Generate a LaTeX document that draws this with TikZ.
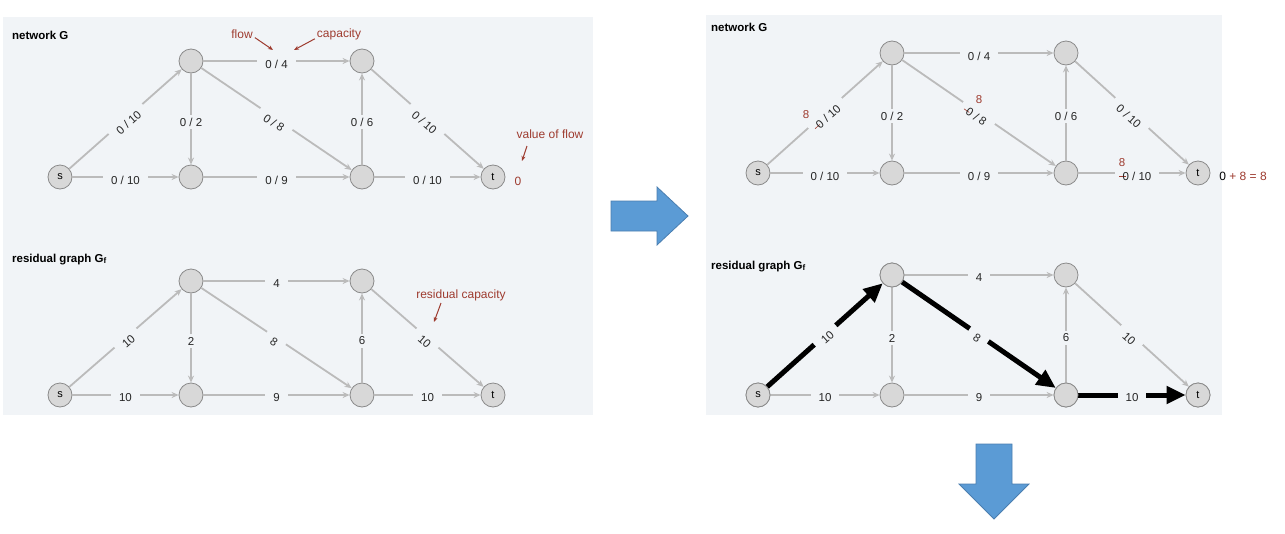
\documentclass[tikz,border=0pt]{standalone}
\usepackage{fontspec}
\setmainfont{Liberation Sans}
\usetikzlibrary{arrows.meta}

\definecolor{panelbg}{HTML}{F1F4F7}
\definecolor{vfill}{HTML}{D8D8D8}
\definecolor{vline}{HTML}{8A8A8A}
\definecolor{eline}{HTML}{BBBBBB}
\definecolor{note}{HTML}{9E3B2F}
\definecolor{bluearrow}{HTML}{5B9BD5}
\definecolor{bluedge}{HTML}{4A7EB0}

% a flow value that has been crossed out
\newcommand\struckzero{\rlap{\kern-0.3em\textcolor{note}{\rule[0.3em]{0.55em}{0.6pt}}}0}

\tikzset{
  panel/.style={fill=panelbg, draw=none},
  vtx/.style={circle, minimum size=24pt, inner sep=0pt, fill=vfill, draw=vline,
    line width=0.8pt, font=\fontsize{11}{12}\selectfont},
  edge/.style={draw=eline, line width=1.8pt, -{Stealth[length=7pt,width=6pt]}},
  hot/.style={draw=black, line width=5pt, -{Triangle[length=19pt,width=17pt]}},
  lbl/.style={fill=panelbg, inner xsep=8pt, inner ysep=3pt, text=black!85,
    font=\fontsize{11.5}{12}\selectfont},
  hlbl/.style={lbl, yshift=-3pt},
  slbl/.style={lbl, sloped, anchor=north, outer ysep=-2.5pt},
  hslbl/.style={lbl, sloped, anchor=north, outer ysep=-3.5pt},
  title/.style={font=\bfseries\fontsize{11.5}{12}\selectfont, anchor=base west, inner sep=0pt},
  note/.style={text=note, font=\fontsize{12}{13}\selectfont, inner sep=1pt},
  notearrow/.style={draw=note, line width=1pt, -{Stealth[length=5pt,width=4pt]}},
  redeight/.style={text=note, font=\fontsize{11.5}{12}\selectfont, inner sep=0pt},
  bigarrow/.style={fill=bluearrow, draw=bluedge, line width=0.8pt},
}

\begin{document}
\begin{tikzpicture}[x=1pt, y=-1pt]
\useasboundingbox (0,0) rectangle (1285,533);
\fill[white] (0,0) rectangle (1285,533);

% panels
\path[panel] (3,17) rectangle (593,415);
\path[panel] (706,15) rectangle (1222,415);

% ---------- left: network G ----------
\node[title] (ttl1) at (12,39) {network G};
\node[vtx] (s1) at (60,177) {s};
\node[vtx] (a1) at (191,61) {};
\node[vtx] (c1) at (362,61) {};
\node[vtx] (b1) at (191,177) {};
\node[vtx] (d1) at (362,177) {};
\node[vtx] (t1) at (493,177) {t};
\draw[edge] (s1) -- node[slbl] {0 / 10} (a1);
\draw[edge] (s1) -- node[hlbl] {0 / 10} (b1);
\draw[edge] (a1) -- node[hlbl] {0 / 2} (b1);
\draw[edge] (a1) -- node[hlbl] {0 / 4} (c1);
\draw[edge] (a1) -- node[slbl] {0 / 8} (d1);
\draw[edge] (b1) -- node[hlbl] {0 / 9} (d1);
\draw[edge] (d1) -- node[hlbl] {0 / 6} (c1);
\draw[edge] (c1) -- node[slbl] {0 / 10} (t1);
\draw[edge] (d1) -- node[hlbl] {0 / 10} (t1);

\node[note] (flowtxt) at (242,34) {flow};
\coordinate (flowtip) at (273,50);
\draw[notearrow] ([xshift=1pt,yshift=2pt]flowtxt.south east) -- (flowtip);
\node[note] (captxt) at (339,34) {capacity};
\coordinate (captip) at (294,50);
\draw[notearrow] ([xshift=-1pt,yshift=2pt]captxt.south west) -- (captip);
\node[note] (valtxt) at (550,134) {value of flow};
\coordinate (valfrom) at (527,146);
\coordinate (valtip) at (522,161);
\draw[notearrow] (valfrom) -- (valtip);
\node[note] (val1) at (518,181) {0};

% ---------- left: residual graph ----------
\node[title] (ttl2) at (12,262) {residual graph G\textsubscript{f}};
\node[vtx] (s2) at (60,395) {s};
\node[vtx] (a2) at (191,281) {};
\node[vtx] (c2) at (362,281) {};
\node[vtx] (b2) at (191,395) {};
\node[vtx] (d2) at (362,395) {};
\node[vtx] (t2) at (493,395) {t};
\draw[edge] (s2) -- node[slbl] {10} (a2);
\draw[edge] (s2) -- node[hlbl] {10} (b2);
\draw[edge] (a2) -- node[hlbl] {2} (b2);
\draw[edge] (a2) -- node[hlbl] {4} (c2);
\draw[edge] (a2) -- node[slbl] {8} (d2);
\draw[edge] (b2) -- node[hlbl] {9} (d2);
\draw[edge] (d2) -- node[hlbl] {6} (c2);
\draw[edge] (c2) -- node[slbl] {10} (t2);
\draw[edge] (d2) -- node[hlbl] {10} (t2);

\node[note] (restxt) at (461,295) {residual capacity};
\coordinate (resfrom) at (441,303);
\coordinate (restip) at (434,322);
\draw[notearrow] (resfrom) -- (restip);

% ---------- right: network G after augmenting ----------
\node[title] (ttl3) at (711,31) {network G};
\node[vtx] (s3) at (758,173) {s};
\node[vtx] (a3) at (892,53) {};
\node[vtx] (c3) at (1066,53) {};
\node[vtx] (b3) at (892,173) {};
\node[vtx] (d3) at (1066,173) {};
\node[vtx] (t3) at (1198,173) {t};
\draw[edge] (s3) -- node[slbl] {\struckzero{} / 10} (a3);
\draw[edge] (s3) -- node[hlbl] {0 / 10} (b3);
\draw[edge] (a3) -- node[hlbl] {0 / 2} (b3);
\draw[edge] (a3) -- node[hlbl] {0 / 4} (c3);
\draw[edge] (a3) -- node[slbl] {\struckzero{} / 8} (d3);
\draw[edge] (b3) -- node[hlbl] {0 / 9} (d3);
\draw[edge] (d3) -- node[hlbl] {0 / 6} (c3);
\draw[edge] (c3) -- node[slbl] {0 / 10} (t3);
\draw[edge] (d3) -- node[hlbl, xshift=5pt] {\struckzero{} / 10} (t3);

\node[redeight] (new1) at (806,115) {8};
\node[redeight] (new2) at (979,100) {8};
\node[redeight] (new3) at (1122,163) {8};
\node[font=\fontsize{12}{13}\selectfont, inner sep=1pt] (val3) at (1243,176)
  {0 \textcolor{note}{+ 8 = 8}};

% ---------- right: residual graph with augmenting path ----------
\node[title] (ttl4) at (711,269) {residual graph G\textsubscript{f}};
\node[vtx] (s4) at (758,395) {s};
\node[vtx] (a4) at (892,275) {};
\node[vtx] (c4) at (1066,275) {};
\node[vtx] (b4) at (892,395) {};
\node[vtx] (d4) at (1066,395) {};
\node[vtx] (t4) at (1198,395) {t};
\draw[edge] (s4) -- node[hlbl] {10} (b4);
\draw[edge] (a4) -- node[hlbl] {2} (b4);
\draw[edge] (a4) -- node[hlbl] {4} (c4);
\draw[edge] (b4) -- node[hlbl] {9} (d4);
\draw[edge] (d4) -- node[hlbl] {6} (c4);
\draw[edge] (c4) -- node[slbl] {10} (t4);
\draw[hot] (s4) -- node[hslbl] {10} (a4);
\draw[hot] (a4) -- node[hslbl] {8} (d4);
\draw[hot] (d4) -- node[hlbl] {10} (t4);
% redraw the path's end vertices above the heavy strokes
\node[vtx] at (s4) {s};
\node[vtx] at (a4) {};
\node[vtx] at (d4) {};
\node[vtx] at (t4) {t};

% ---------- block arrows ----------
\path[bigarrow] (611,201) -- (657,201) -- (657,187) -- (688,216) -- (657,245)
  -- (657,231) -- (611,231) -- cycle;
\path[bigarrow] (976,444) -- (1012,444) -- (1012,484) -- (1029,484) -- (994,519)
  -- (959,484) -- (976,484) -- cycle;
\end{tikzpicture}
\end{document}
